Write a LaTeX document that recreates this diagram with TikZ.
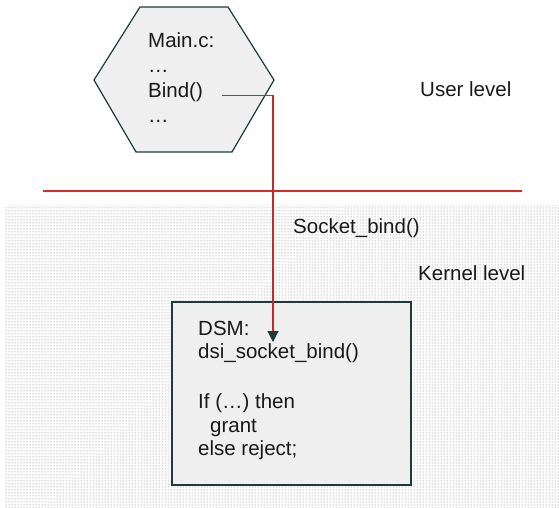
\documentclass[tikz,border=0pt]{standalone}
\usepackage{fontspec}
\setmainfont{Liberation Sans}
\usepackage{tikz}
\usetikzlibrary{arrows.meta,patterns}
\definecolor{rim}{HTML}{1f3a3a}
\definecolor{cut}{HTML}{e02828}
\definecolor{wire}{HTML}{c82828}
\definecolor{panel}{HTML}{efefef}

\begin{document}
\begin{tikzpicture}[x=1pt, y=-1pt,
  txt/.style={anchor=base west, inner sep=3pt, text=black!90,
              font=\fontsize{20.5}{23.5}\selectfont},
  hexa/.style={draw=rim, line width=1.2pt, fill=panel},
  dsmbox/.style={draw=rim, line width=1.2pt, fill=panel, minimum width=239pt,
                 minimum height=183pt, inner sep=0pt},
  link/.style={-{Triangle[length=11pt, width=11pt, color=rim, fill=rim]},
               draw=wire, line width=1.2pt},
  kernel/.style={pattern=dots, pattern color=black!55}]
\useasboundingbox (0,0) rectangle (559,508);
\fill[kernel] (5,205) rectangle (559,508);
\draw[draw=cut, line width=1.2pt] (43,191) -- (522,191);
\draw[hexa] (140,7) -- (228,7) -- (274,80) -- (232,152) -- (136,152) -- (94,80) -- cycle;
\node[txt] (mainc) at (145,48) {Main.c:};
\node[txt] (dots1) at (145,73) {…};
\node[txt] (bind) at (145,98) {Bind()};
\node[txt] (dots2) at (145,122) {…};
\node[txt] (user) at (417,97) {User level};
\node[txt] (sock) at (290,233) {Socket\_bind()};
\node[txt] (kern) at (415,280) {Kernel level};
\node[dsmbox] (dsm) at (291.5,393.5) {};
\node[txt] (dsmhead) at (195,335) {DSM:};
\node[txt] (dsi) at (195,358) {dsi\_socket\_bind()};
\node[txt] (cond) at (195,408) {If (…) then};
\node[txt] (grant) at (207,432) {grant};
\node[txt] (reject) at (195,455) {else reject;};
\coordinate (tip) at (273,342);
\draw[link] ([xshift=16pt, yshift=-3pt]bind.east) -| (tip);
\end{tikzpicture}
\end{document}
